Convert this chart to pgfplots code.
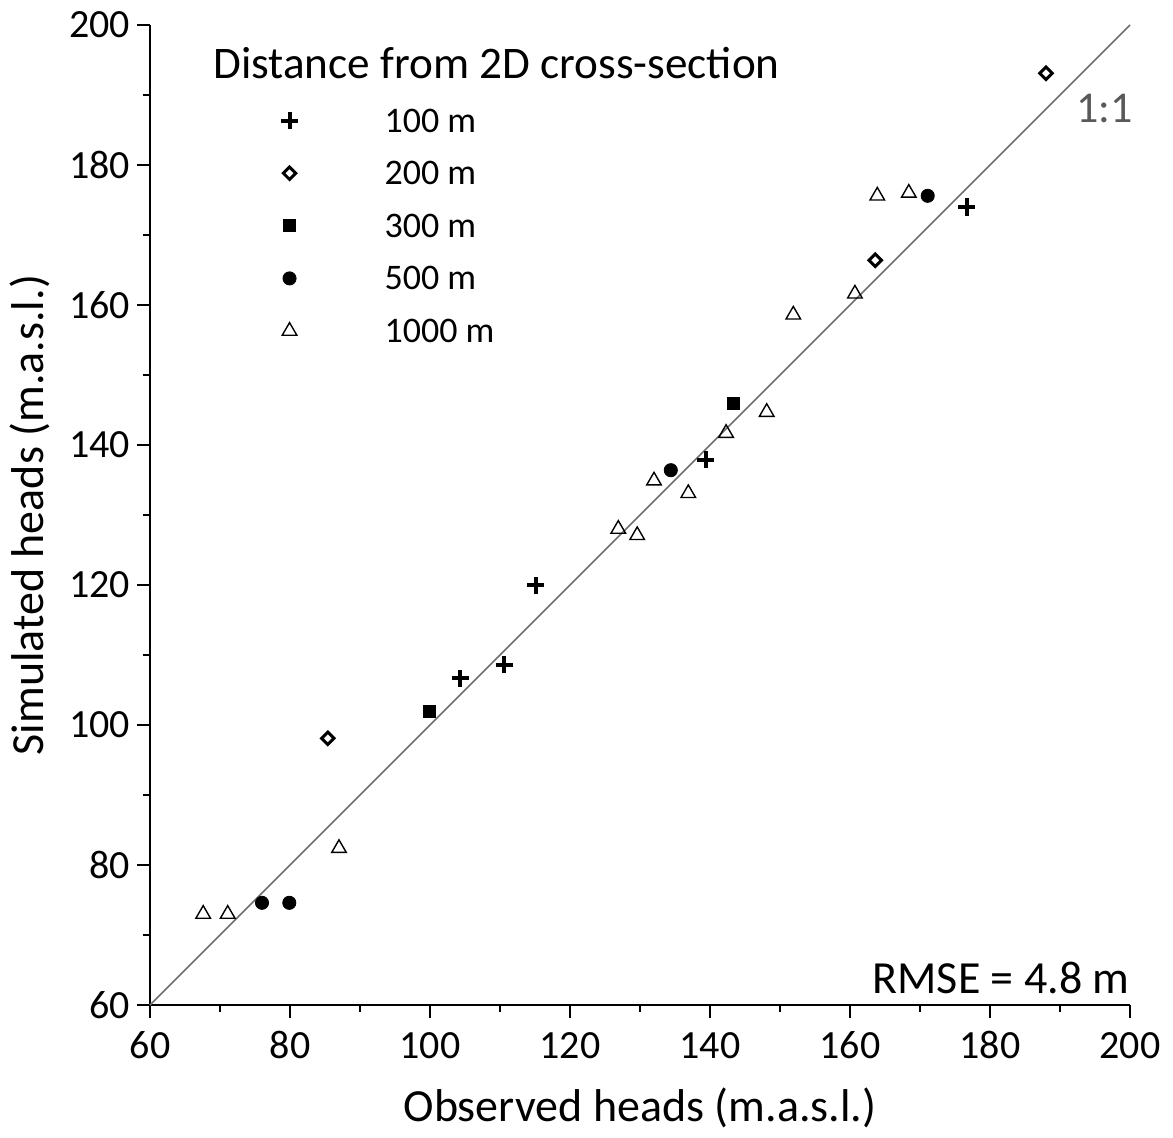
\documentclass[border=0pt]{standalone}
\usepackage{pgfplots}
\pgfplotsset{compat=1.18}
\usepackage{fontspec}
\setmainfont{Carlito}
\definecolor{lineg}{HTML}{707070}
\definecolor{txtg}{HTML}{595959}
\begin{document}
\begin{tikzpicture}
\useasboundingbox (-75pt,-66pt) rectangle (511.5pt,502.5pt);
\begin{axis}[
  scale only axis, width=490pt, height=490pt,
  xmin=60, xmax=200, ymin=60, ymax=200,
  axis x line*=bottom, axis y line*=left,
  xtick={60,80,...,200}, ytick={60,80,...,200},
  minor x tick num=1, minor y tick num=1,
  tick align=outside,
  major tick length=6.5pt, minor tick length=3.5pt,
  every tick/.style={black, line width=1pt},
  axis line style={black, line width=1pt},
  tick label style={font=\fontsize{20}{23}\selectfont},
  xticklabel style={font=\fontsize{20}{23}\selectfont, anchor=north, inner sep=0pt, text height=12.6pt, text depth=0pt, yshift=-7.6pt},
  yticklabel style={font=\fontsize{20}{23}\selectfont},
  /pgf/number format/assume math mode=true,
  xlabel={Observed heads (m.a.s.l.)},
  ylabel={Simulated heads (m.a.s.l.)},
  every axis x label/.style={at={(axis description cs:0.5,0)}, anchor=center, yshift=-51.5pt, font=\fontsize{23}{27}\selectfont},
  every axis y label/.style={at={(axis description cs:0,0.5)}, xshift=-60pt, rotate=90, anchor=center, font=\fontsize{23}{27}\selectfont},
  clip=false,
  legend style={draw=none, fill=none, at={(axis cs:76.45,188.6)}, anchor=north west,
    font=\fontsize{18}{21}\selectfont, column sep=0pt, row sep=14.9pt,
    nodes={inner sep=0pt, text height=11.4pt, text depth=0pt}},
  legend cell align=left,
  legend image code/.code={\draw[#1] plot coordinates {(9pt,0pt)}; \path[draw=none,fill=none] (0pt,0pt) -- (56.5pt,0pt);},
]
\addplot[lineg, line width=0.75pt, forget plot] coordinates {(60,60) (200,200)};
\addplot[only marks, mark=+, mark size=4.25pt, line width=2pt, black] coordinates {
(176.7,174.0) (139.4,137.9) (115.1,120.0) (104.3,106.7) (110.6,108.6)};
\addlegendentry{100 m}
\addplot[only marks, mark=square, mark options={rotate=45, fill=white}, mark size=2.2pt, line width=1.5pt, black] coordinates {
(188.0,193.1) (163.6,166.4) (85.4,98.1)};
\addlegendentry{200 m}
\addplot[only marks, mark=square*, mark size=3pt, black] coordinates {
(143.3,146.0) (99.9,102.0)};
\addlegendentry{300 m}
\addplot[only marks, mark=*, mark size=3.3pt, black] coordinates {
(171.1,175.6) (134.4,136.4) (76.0,74.6) (79.9,74.6)};
\addlegendentry{500 m}
\addplot[only marks, mark=triangle, mark size=4.2pt, line width=0.7pt, black] coordinates {
(67.6,73.0) (71.1,73.0) (87.0,82.4) (126.9,128.0) (129.6,127.1) (132.0,134.9)
(136.9,133.1) (142.3,141.7) (148.1,144.7) (151.9,158.6) (160.7,161.6)
(163.9,175.6) (168.4,176.0)};
\addlegendentry{1000 m}
\node[anchor=west, inner sep=0pt, font=\fontsize{22.6}{27}\selectfont] at (axis cs:69,194.6) {Distance from 2D cross-section};
\node[anchor=east, inner sep=0pt, font=\fontsize{23}{27}\selectfont] at (axis cs:200,63.9) {RMSE = 4.8 m};
\node[text=txtg, inner sep=0pt, font=\fontsize{22}{26}\selectfont] at (axis cs:196.4,188.1) {1:1};
\end{axis}
\end{tikzpicture}
\end{document}
